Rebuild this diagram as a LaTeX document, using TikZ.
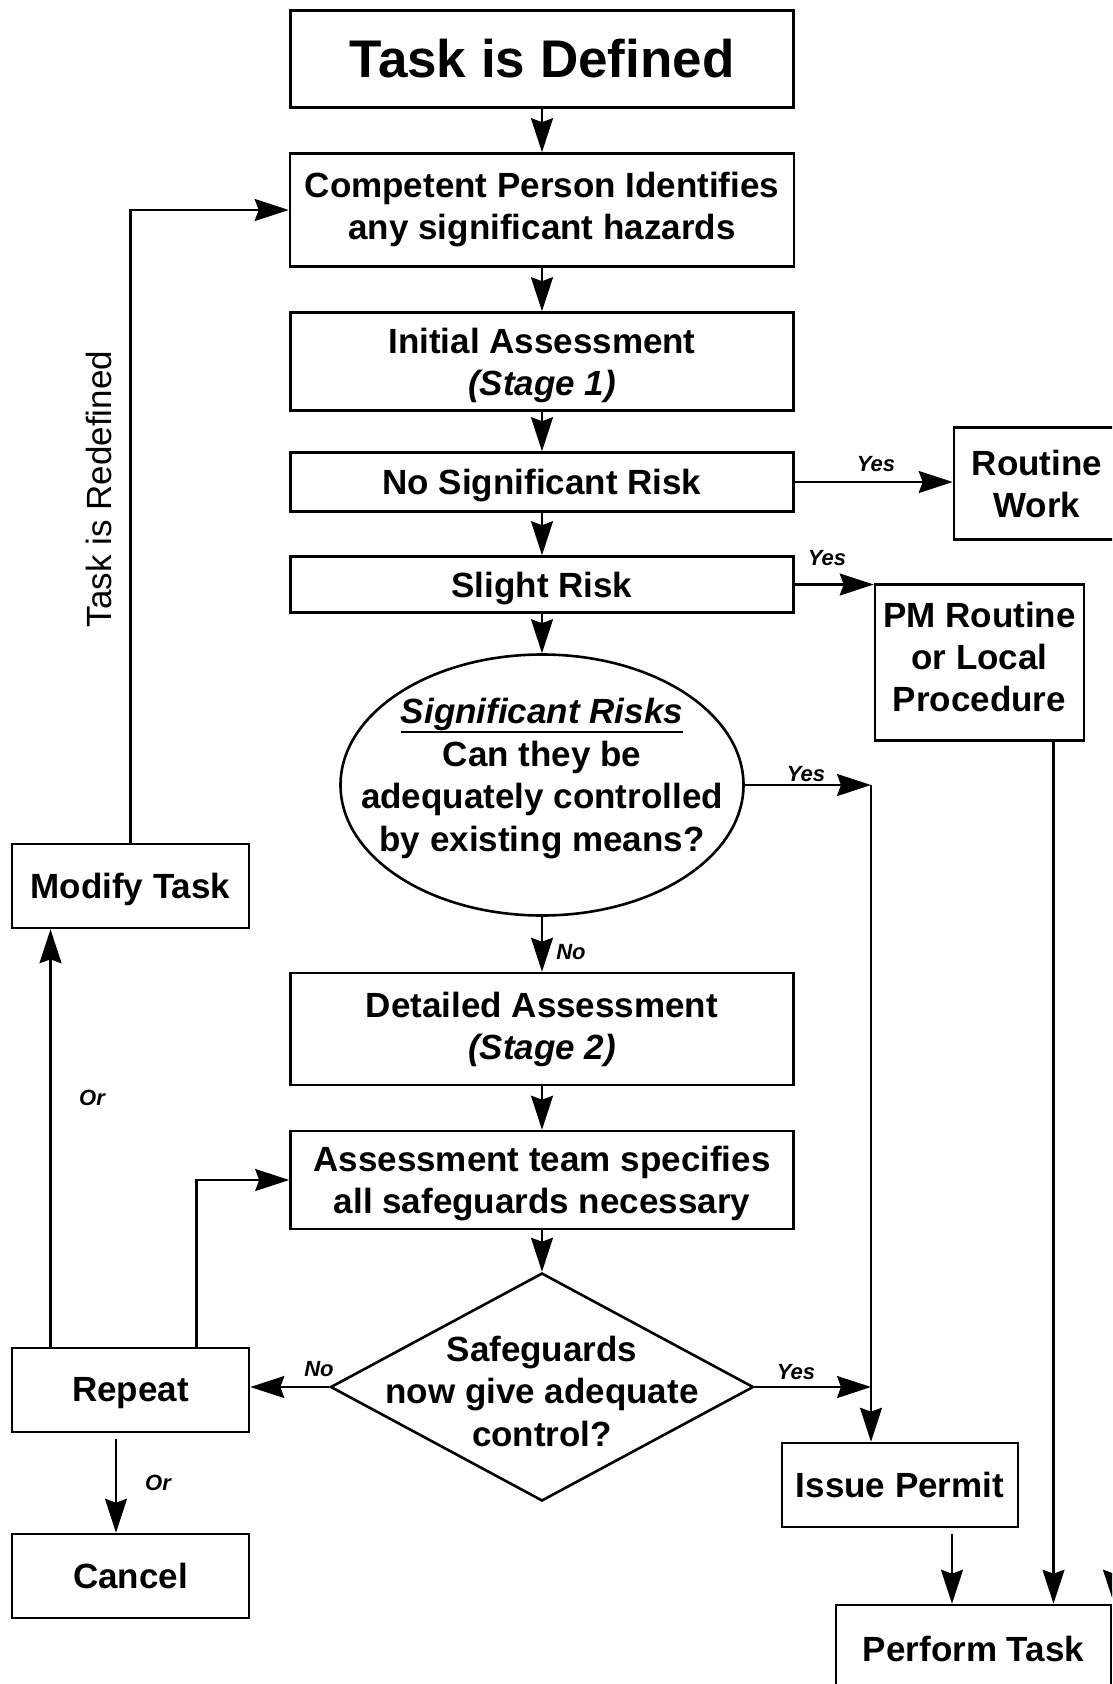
\documentclass[tikz,border=0pt]{standalone}
\usepackage{fontspec}
\setmainfont{Liberation Sans}
\usetikzlibrary{shapes.geometric,arrows.meta}
\newcommand\riskunder[1]{\setbox0\hbox{#1}\rlap{\rule[-9.5pt]{\wd0}{2.6pt}}\box0}

\begin{document}
\begin{tikzpicture}[x=1pt,y=-1pt,
  every node/.style={align=center},
  stepbox/.style={draw, line width=2.6pt, inner sep=0pt, font=\bfseries\fontsize{35}{42}\selectfont},
  bigtext/.style={font=\bfseries\fontsize{35}{42.5}\selectfont},
  flow/.style={line width=2.2pt, -{Stealth[length=34pt,width=22pt,inset=4pt]}},
  tag/.style={font=\bfseries\itshape\fontsize{22}{26}\selectfont}]
\useasboundingbox (0,0) rectangle (1112,1684);
\clip (0,0) rectangle (1112,1684);

% Main column
\node[stepbox, minimum width=503pt, minimum height=97pt, font=\bfseries\fontsize{53}{60}\selectfont] (defined) at (542,59) {Task is Defined};
\node[stepbox, minimum width=504pt, minimum height=113pt] (identify) at (542,210) {Competent Person Identifies\\any significant hazards};
\node[stepbox, minimum width=503pt, minimum height=98pt, text depth=-3.4pt] (initial) at (542,361.5) {Initial Assessment\\\textit{(Stage 1)}};
\node[stepbox, minimum width=503pt, minimum height=59pt, text depth=-4.4pt] (nosig) at (542,482) {No Significant Risk};
\node[stepbox, minimum width=503pt, minimum height=56pt, text depth=-12pt] (slight) at (542,584.5) {Slight Risk};
\node[ellipse, draw, line width=2.6pt, minimum width=403pt, minimum height=261pt] (risks) at (542,785) {};
\node[bigtext] (riskstext) at (542,778.5) {\riskunder{\textit{Significant Risks}}\\Can they be\\adequately controlled\\by existing means?};
\node[stepbox, minimum width=503pt, minimum height=112pt] (detailed) at (542,1029) {Detailed Assessment\\\textit{(Stage 2)}};
\node[stepbox, minimum width=503pt, minimum height=98pt, text depth=1pt] (team) at (542,1180) {Assessment team specifies\\all safeguards necessary};
\node[diamond, draw, line width=2.6pt, minimum width=423pt, minimum height=228pt] (safe) at (542,1387) {};
\node[bigtext] (safetext) at (542,1391) {Safeguards\\now give adequate\\control?};

% Left column
\node[stepbox, minimum width=237pt, minimum height=84pt, text depth=1pt] (modify) at (130.5,886) {Modify Task};
\node[stepbox, minimum width=237pt, minimum height=84pt, text depth=1pt] (repeat) at (130.5,1390) {Repeat};
\node[stepbox, minimum width=237pt, minimum height=84pt] (cancel) at (130.5,1576) {Cancel};

% Right column
\node[stepbox, minimum width=166pt, minimum height=112pt] (routine) at (1037,483.5) {Routine\\Work};
\node[stepbox, minimum width=209pt, minimum height=156pt, text depth=11.5pt] (pm) at (979.5,662.5) {PM Routine\\or Local\\Procedure};
\node[stepbox, minimum width=236pt, minimum height=84pt] (issue) at (900,1485) {Issue Permit};
\node[stepbox, minimum width=275pt, minimum height=88pt] (perform) at (973.5,1649) {Perform Task};

% Main flow
\draw[flow] (defined) -- (identify);
\draw[flow] (identify) -- (initial);
\draw[flow] (initial) -- (nosig);
\draw[flow] (nosig) -- (slight);
\draw[flow] (slight) -- (risks);
\draw[flow] (risks) -- (detailed);
\draw[flow] (detailed) -- (team);
\draw[flow] (team) -- (safe);

% Yes branches
\coordinate (yesjoin) at (871,785);
\draw[flow] (nosig.east) -- (nosig.east -| routine.west);
\draw[flow] (slight.east) -- (slight.east -| pm.west);
\draw[flow] (risks.east) -- (yesjoin);
\draw[flow] (safe.east) -- (yesjoin |- safe.east);
\draw[flow] (yesjoin) -- (yesjoin |- issue.north);

% No branch and loops
\draw[flow] (safe.west) -- (safe.west -| repeat.east);
\draw[flow] ([xshift=-14.5pt,yshift=-6pt]repeat.south) -- ([xshift=-14.5pt]cancel.north);
\draw[flow] ([xshift=-80pt]repeat.north) -- ([xshift=-80pt]modify.south);
\draw[flow] ([xshift=66pt]repeat.north) |- (team.west);
\draw[flow] (modify.north) |- (identify.west);

% Into Perform Task
\coordinate (routinefoot) at ([xshift=77pt]routine.south);
\coordinate (pmfoot) at ([xshift=74pt]pm.south);
\coordinate (issuefoot) at ([xshift=52pt,yshift=-6pt]issue.south);
\draw[flow] (routinefoot) -- (routinefoot |- perform.north);
\draw[flow] (pmfoot) -- (pmfoot |- perform.north);
\draw[flow] (issuefoot) -- (issuefoot |- perform.north);

% Labels
\node[tag] (yes1) at (876,464) {Yes};
\node[tag] (yes2) at (827,558) {Yes};
\node[tag] (yes3) at (806,774) {Yes};
\node[tag] (yes4) at (796,1372) {Yes};
\node[tag] (no1) at (571,952) {No};
\node[tag] (no2) at (319,1369) {No};
\node[tag] (or1) at (158,1483) {Or};
\node[tag] (or2) at (92,1098) {Or};
\node[rotate=90, font=\fontsize{35}{42}\selectfont] (redefined) at (99,489) {Task is Redefined};
\end{tikzpicture}
\end{document}
